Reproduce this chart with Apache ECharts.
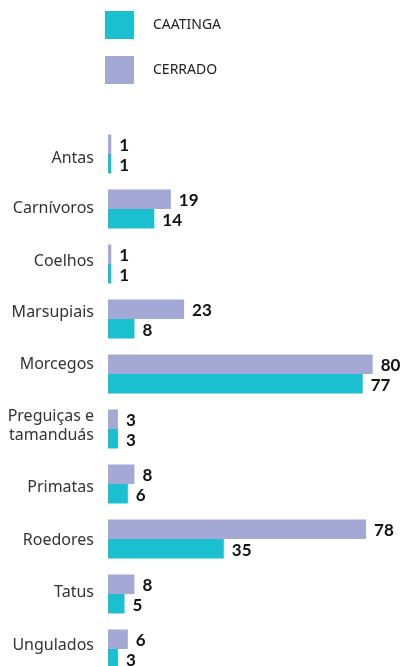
<!DOCTYPE html>
<html>
<head>
<meta charset="utf-8">
<script src="https://cdn.jsdelivr.net/npm/echarts@6/dist/echarts.min.js"></script>
<style>
  html, body { margin: 0; padding: 0; background: #fff; }
  #chart { width: 407px; height: 666px; }
</style>
</head>
<body>
<div id="chart"></div>
<script>
const categories = ['Antas', 'Carnívoros', 'Coelhos', 'Marsupiais', 'Morcegos',
  'Preguiças e\ntamanduás', 'Primatas', 'Roedores', 'Tatus', 'Ungulados'];
const cerrado = [1, 19, 1, 23, 80, 3, 8, 78, 8, 6];
const caatinga = [1, 14, 1, 8, 77, 3, 6, 35, 5, 3];

// the category names sit a little off the band centre in the original (px, + = down)
const labelShift = [4, -1, -3, -7, -10, -3, 3.5, 1.5, -1.5, -3.5];

const teal = '#1ac0d0';
const purple = '#a4a8d4';

const chart = echarts.init(document.getElementById('chart'));

const valueLabel = (offsetY) => ({
  show: true,
  position: 'right',
  distance: 8,
  offset: [0, offsetY],
  color: '#111',
  fontFamily: 'Lato',
  fontWeight: 'bold',
  fontSize: 17,
});

// one rich style per category; padding moves the text by half its size
const rich = {};
labelShift.forEach((s, i) => {
  rich['r' + i] = {
    color: '#333',
    fontFamily: 'Noto Sans',
    fontSize: 16,
    lineHeight: 19,
    padding: s >= 0 ? [2 * s, 0, 0, 0] : [0, 0, -2 * s, 0],
  };
});

chart.setOption({
  animation: false,
  legend: {
    orient: 'vertical',
    left: 105,
    top: 11,
    padding: 0,
    itemWidth: 29,
    itemHeight: 28,
    itemGap: 17,
    icon: 'rect',
    data: ['CAATINGA', 'CERRADO'],
    textStyle: {
      fontFamily: 'Noto Sans',
      fontSize: 14,
      color: '#222',
      padding: [2, 0, 0, 14],
    },
  },
  grid: {
    left: 108,
    top: 126.5,
    width: 330.8,
    height: 550,
    outerBoundsMode: 'none',
  },
  xAxis: {
    type: 'value',
    min: 0,
    max: 100,
    show: false,
  },
  yAxis: {
    type: 'category',
    inverse: true,
    data: categories,
    axisLine: { show: false },
    axisTick: { show: false },
    axisLabel: {
      margin: 14,
      color: '#333',
      fontFamily: 'Noto Sans',
      fontSize: 16,
      lineHeight: 19,
      formatter: (v, i) => v.split('\n').map((l) => '{r' + i + '|' + l + '}').join('\n'),
      rich: rich,
    },
  },
  series: [
    {
      name: 'CERRADO',
      type: 'bar',
      data: cerrado,
      barWidth: 19.5,
      barGap: '0%',
      itemStyle: { color: purple },
      label: valueLabel(1),
    },
    {
      name: 'CAATINGA',
      type: 'bar',
      data: caatinga,
      barWidth: 19.5,
      barGap: '0%',
      itemStyle: { color: teal },
      label: valueLabel(2),
    },
  ],
});
</script>
</body>
</html>
